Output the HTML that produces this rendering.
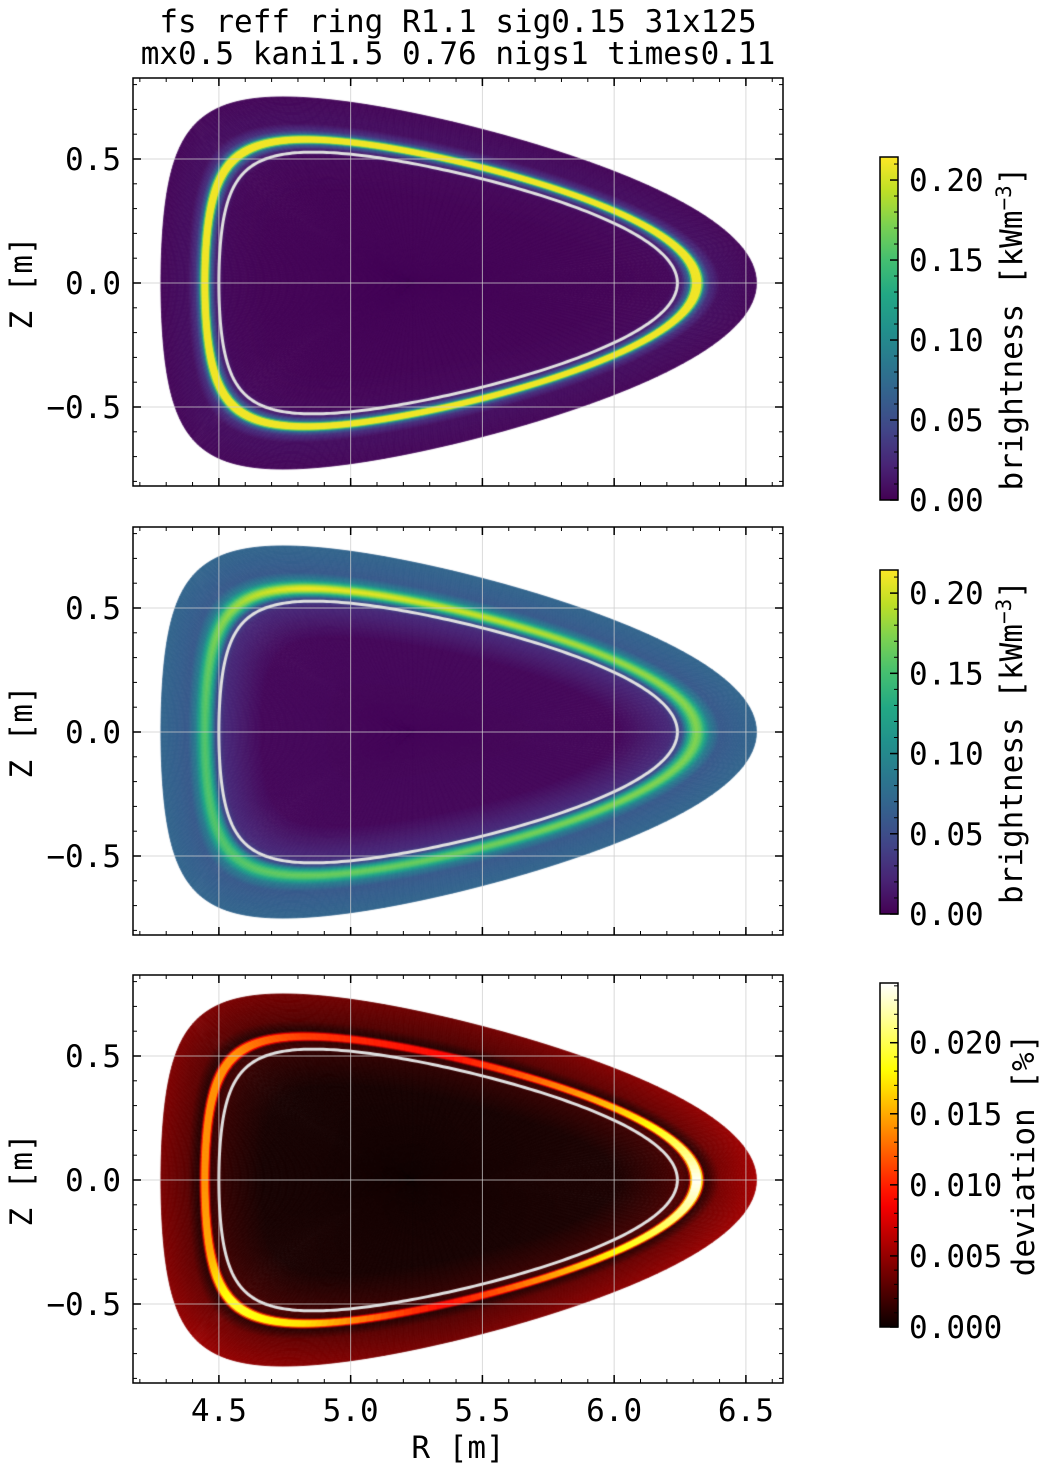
<!DOCTYPE html>
<html><head><meta charset="utf-8"><style>
body{margin:0;background:#fff;width:1049px;height:1471px;position:relative;overflow:hidden;font-family:"DejaVu Sans Mono","Liberation Mono",monospace}
canvas{position:absolute}
svg{position:absolute;left:0;top:0}
</style></head><body>
<canvas id="c0" width="650" height="408" style="left:133px;top:78px"></canvas>
<canvas id="c1" width="650" height="408" style="left:133px;top:527px"></canvas>
<canvas id="c2" width="650" height="408" style="left:133px;top:975px"></canvas>
<svg id="ov" width="1049" height="1471"></svg>
<script>
// ---- data ----
const rhoP   = [0, 0.6, 0.75, 0.785, 0.805, 0.815, 0.827, 0.84, 0.85, 0.865, 0.895, 1.0, 1.1];
const ring   = [0, 0,   0,    0,     0,     1,     1,     1,    0,    0,     0,     0,   0];
const halo1  = [0.002,0.002,0.004,0.02,0.07,0,0,0,0.07,0.03,0.008,0.004,0.004];
const prof2  = [0.003,0.004,0.025,0.05,0.13,0.16,0.175,0.16,0.13,0.09,0.06,0.07,0.07];
const base3  = [0.0003,0.0005,0.0015,0.002,0.0015,0,0,0,0.001,0.0015,0.003,0.0042,0.0042];
const angDeg = [0,30,60,90,120,150,180,210,240,270,300,330,360];
const ringMod2 = [1.0,1.05,1.15,1.22,1.05,0.95,0.9,0.9,0.9,0.95,0.95,1.0,1.0];
const ringAmp3 = [0.024,0.016,0.009,0.011,0.014,0.014,0.014,0.015,0.019,0.017,0.009,0.018,0.024];
const outerMod3= [1.35,1.1,0.85,0.9,1.0,1.0,0.95,1.05,1.25,1.1,0.9,1.15,1.35];
const xTicks = [4.5,5.0,5.5,6.0,6.5];
const yTicks = [-0.5,0.0,0.5];
const cbTicks12 = [0,0.05,0.10,0.15,0.20];
const cbTicks3 = [0,0.005,0.010,0.015,0.020];
const rhoWhite = 0.77;

// ---- geometry ----
const L=133,R=783,H=408, tops=[78,527,975];
const xs=r=>L+(r-4.174)*263.5;
const ysr=z=>205-z*248; // relative to panel top
function shape(rho,th){
  const a=1.13*rho, R0=5.41-0.174*(1-rho), k=0.414+0.25*rho, d=0.63;
  return [R0+a*Math.cos(th+d*Math.sin(th)), k*a*Math.sin(th)];
}
function interp(xa,ya,x){
  if(x<=xa[0])return ya[0];
  for(let i=1;i<xa.length;i++){if(x<=xa[i]){const t=(x-xa[i-1])/(xa[i]-xa[i-1]);return ya[i-1]+t*(ya[i]-ya[i-1]);}}
  return ya[ya.length-1];
}
const deg=th=>((th*180/Math.PI)%360+360)%360;
function val(p,rho,th){
  const rg=interp(rhoP,ring,rho);
  if(p===0)return 0.21*rg+interp(rhoP,halo1,rho);
  const d=deg(th);
  const mask=Math.exp(-Math.pow((rho-0.827)/0.03,2));
  if(p===1)return interp(rhoP,prof2,rho)*(1+(interp(angDeg,ringMod2,d)-1)*mask);
  return interp(rhoP,base3,rho)*interp(angDeg,outerMod3,d)+rg*interp(angDeg,ringAmp3,d);
}
// ---- colormaps ----
const vir=["#440154","#482475","#414487","#355f8d","#2a788e","#21918c","#22a884","#44bf70","#7ad151","#bddf26","#fde725"].map(h=>[parseInt(h.slice(1,3),16),parseInt(h.slice(3,5),16),parseInt(h.slice(5,7),16)]);
function viridis(t){t=Math.max(0,Math.min(1,t));const f=t*10,i=Math.min(9,Math.floor(f)),u=f-i;const a=vir[i],b=vir[i+1];return `rgb(${a.map((c,j)=>Math.round(c+u*(b[j]-c))).join(',')})`;}
function hot(t){t=Math.max(0,Math.min(1,t));const r=Math.min(1,t/0.365),g=Math.max(0,Math.min(1,(t-0.365)/0.381)),b=Math.max(0,(t-0.746)/0.254);return `rgb(${Math.round(10+r*245)},${Math.round(g*255)},${Math.round(b*255)})`;}
const vmax=[0.2144,0.2144,0.0242];
// ---- draw maps ----
for(let p=0;p<3;p++){
  const ctx=document.getElementById('c'+p).getContext('2d');
  const NR=220,NT=240;
  for(let i=0;i<NR;i++){
    const r0=i/NR,r1=(i+1)/NR,rm=(r0+r1)/2;
    for(let j=0;j<NT;j++){
      const t0=j/NT*2*Math.PI,t1=(j+1)/NT*2*Math.PI,tm=(t0+t1)/2;
      const v=val(p,rm,tm)/vmax[p];
      const col=p===2?hot(v):viridis(v);
      const pts=[shape(r0,t0),shape(r0,t1),shape(r1,t1),shape(r1,t0)];
      ctx.beginPath();
      pts.forEach((q,k)=>{const X=xs(q[0])-L,Y=ysr(q[1]);k?ctx.lineTo(X,Y):ctx.moveTo(X,Y);});
      ctx.closePath();ctx.fillStyle=col;ctx.strokeStyle=col;ctx.lineWidth=0.8;ctx.fill();ctx.stroke();
    }
  }
  ctx.beginPath();
  for(let j=0;j<=360;j++){const q=shape(rhoWhite,j/360*2*Math.PI);const X=xs(q[0])-L,Y=ysr(q[1]);j?ctx.lineTo(X,Y):ctx.moveTo(X,Y);}
  ctx.strokeStyle="#e0e0e0";ctx.lineWidth=3;ctx.stroke();
}
// ---- overlay ----
const NS="http://www.w3.org/2000/svg",ov=document.getElementById('ov');
function el(tag,at,txt){const e=document.createElementNS(NS,tag);for(const k in at)e.setAttribute(k,at[k]);if(txt!==undefined)e.textContent=txt;ov.appendChild(e);return e;}
const fmt=(v,d)=>(v<0?"\u2212":"")+Math.abs(v).toFixed(d);
const tf={"font-family":'"DejaVu Sans Mono","Liberation Mono",monospace',"font-size":31,fill:"#000"};
let t=el('text',Object.assign({x:458,y:32,"text-anchor":"middle"},tf),"fs reff ring R1.1 sig0.15 31x125");

t=el('text',Object.assign({x:458,y:64,"text-anchor":"middle"},tf),"mx0.5 kani1.5 0.76 nigs1 times0.11");

for(let p=0;p<3;p++){
  const T=tops[p],Y=z=>T+ysr(z);
  xTicks.forEach(v=>{const g=el('line',{x1:xs(v),x2:xs(v),y1:T,y2:T+H,stroke:"rgba(205,205,205,0.75)","stroke-width":1});});
  yTicks.forEach(v=>{const g=el('line',{x1:L,x2:R,y1:Y(v),y2:Y(v),stroke:"rgba(205,205,205,0.75)","stroke-width":1});});
  for(let v=4.2;v<=6.61;v+=0.1){const x=xs(v);el('line',{x1:x,x2:x,y1:T,y2:T+4,stroke:"#000","stroke-width":1});el('line',{x1:x,x2:x,y1:T+H,y2:T+H-4,stroke:"#000","stroke-width":1});}
  for(let v=-0.8;v<=0.81;v+=0.1){const y=Y(v);el('line',{x1:L,x2:L+4,y1:y,y2:y,stroke:"#000","stroke-width":1});el('line',{x1:R,x2:R-4,y1:y,y2:y,stroke:"#000","stroke-width":1});}
  xTicks.forEach(v=>{const x=xs(v);el('line',{x1:x,x2:x,y1:T,y2:T+8,stroke:"#000","stroke-width":1.5});el('line',{x1:x,x2:x,y1:T+H,y2:T+H-8,stroke:"#000","stroke-width":1.5});
    if(p===2){const l=el('text',Object.assign({x:x,y:T+H+38,"text-anchor":"middle"},tf),v.toFixed(1));}});
  yTicks.forEach(v=>{const y=Y(v);el('line',{x1:L,x2:L+8,y1:y,y2:y,stroke:"#000","stroke-width":1.5});el('line',{x1:R,x2:R-8,y1:y,y2:y,stroke:"#000","stroke-width":1.5});
    const l=el('text',Object.assign({x:121,y:y+11,"text-anchor":"end"},tf),fmt(v,1));});
  const fr=el('rect',{x:L,y:T,width:R-L,height:H,fill:"none",stroke:"#000","stroke-width":1.5});
  
  const yl=el('text',Object.assign({x:0,y:0,"text-anchor":"middle",transform:`translate(32,${T+ysr(0)}) rotate(-90)`},tf),"Z [m]");
  
  const cbTop=[157,570,983][p],cbBot=[500,914,1327][p],cx=880,cw=18;
  const gid='g'+p,defs=el('defs',{}),lg=document.createElementNS(NS,'linearGradient');
  lg.setAttribute('id',gid);lg.setAttribute('x1',0);lg.setAttribute('x2',0);lg.setAttribute('y1',1);lg.setAttribute('y2',0);defs.appendChild(lg);
  for(let k=0;k<=20;k++){const s=document.createElementNS(NS,'stop');s.setAttribute('offset',k/20);s.setAttribute('stop-color',p===2?hot(k/20):viridis(k/20));lg.appendChild(s);}
  const cb=el('rect',{x:cx,y:cbTop,width:cw,height:cbBot-cbTop,fill:`url(#${gid})`,stroke:"#000","stroke-width":1.5});
  
  const ticks=p===2?cbTicks3:cbTicks12,dec=p===2?3:2,step=p===2?0.001:0.01;
  const cy=v=>cbBot-(v/vmax[p])*(cbBot-cbTop);
  for(let v=0;v<=vmax[p];v+=step){el('line',{x1:cx+cw,x2:cx+cw-4,y1:cy(v),y2:cy(v),stroke:"#000","stroke-width":1});}
  ticks.forEach(v=>{const y=cy(v);el('line',{x1:cx+cw,x2:cx+cw-8,y1:y,y2:y,stroke:"#000","stroke-width":1.5});
    const l=el('text',Object.assign({x:909,y:y+11},tf),v.toFixed(dec));});
  const lx=p===2?1034:1022, lyc=(cbTop+cbBot)/2;
  const cl=el('text',Object.assign({x:0,y:0,"text-anchor":"middle",transform:`translate(${lx},${lyc}) rotate(-90)`},tf));
  if(p===2){cl.textContent="deviation [%]";}
  else{cl.appendChild(document.createTextNode("brightness [kWm"));const sp=document.createElementNS(NS,'tspan');sp.setAttribute('dy',-11);sp.setAttribute('font-size',21);sp.textContent="\u22123";cl.appendChild(sp);const sp2=document.createElementNS(NS,'tspan');sp2.setAttribute('dy',11);sp2.textContent="]";cl.appendChild(sp2);}
  
}
const xl=el('text',Object.assign({x:458,y:1458,"text-anchor":"middle"},tf),"R [m]");

</script>
</body></html>
